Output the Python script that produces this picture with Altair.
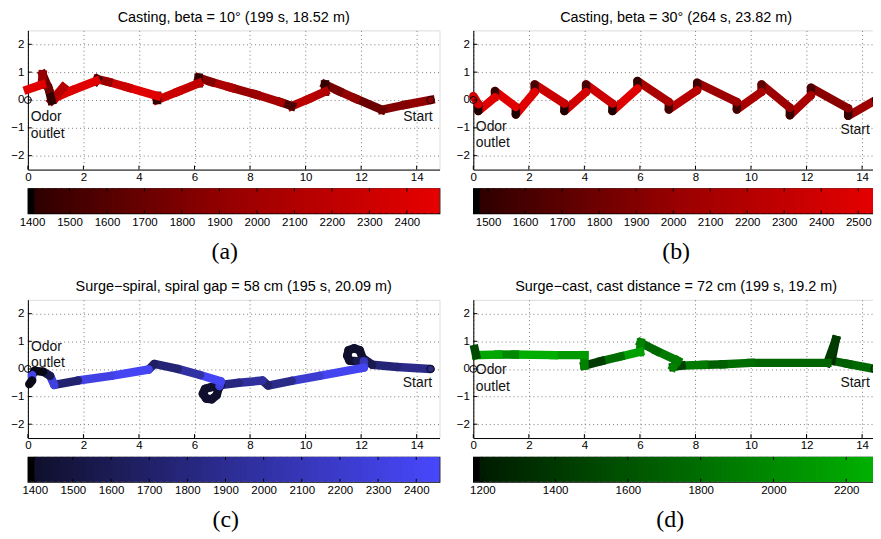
import altair as alt
import pandas as pd
import numpy as np

FONT = "Liberation Sans"
SERIF = "Liberation Serif"

XTICKS = [0, 2, 4, 6, 8, 10, 12, 14]
YTICKS = [-2, -1, 0, 1, 2]

RED = ["#000000", "#300000", "#9a0000", "#e80000"]
BLUE = ["#000000", "#10102e", "#2e2e98", "#4848ff"]
GREEN = ["#000000", "#001c00", "#006600", "#00b400"]

# ---------------- panel (a)
A_TITLE = "Casting, beta = 10\u00b0 (199 s, 18.52 m)"
A_X = [14.5, 13.6, 12.75, 11.8, 11.2, 10.7, 10.7, 10.1, 9.5, 9.1, 8.2, 7.3, 6.6, 6.15, 6.15,
       5.4, 4.65, 4.65, 3.6, 2.9, 2.5, 2.45, 1.6, 1.0, 1.27, 0.85, 0.75, 0.53, 0.5, 0.0]
A_Y = [0.0, -0.17, -0.35, 0.05, 0.32, 0.56, 0.3, 0.03, -0.22, -0.08, 0.2, 0.45, 0.65, 0.8, 0.6,
       0.3, 0.0, 0.15, 0.45, 0.65, 0.75, 0.68, 0.35, 0.08, 0.45, -0.02, 0.4, 0.92, 0.55, 0.38]
A_V = [1900, 1820, 1700, 1900, 1760, 1420, 2120, 2180, 1550, 2020, 1930, 2070, 1830, 1420,
       2230, 2280, 1450, 2430, 2280, 1930, 1500, 2440, 2410, 2330, 2120, 1420, 1720, 1920, 2440]
A_CB = [1389, 2487]
A_CBTICKS = [1400, 1500, 1600, 1700, 1800, 1900, 2000, 2100, 2200, 2300, 2400]

# ---------------- panel (b)
B_TITLE = "Casting, beta = 30\u00b0 (264 s, 23.82 m)"
B_X = [14.5, 13.5, 13.5, 12.16, 12.16, 11.4, 11.4, 10.38, 10.38, 9.49, 9.49, 8.06, 8.06,
       7.04, 7.04, 5.91, 5.91, 5.01, 5.01, 4.06, 4.06, 3.28, 3.28, 2.21, 2.21, 1.53, 1.53,
       0.78, 0.78, 0.18, 0.18, 0.0]
B_Y = [0.0, -0.57, -0.3, 0.44, 0.17, -0.55, -0.28, 0.56, 0.29, -0.34, -0.07, 0.62, 0.35,
       -0.34, -0.07, 0.68, 0.41, -0.4, -0.13, 0.56, 0.29, -0.4, -0.13, 0.56, 0.29, -0.52, -0.25,
       0.32, 0.1, -0.4, -0.15, 0.14]
B_V = [2028, 1500, 1930, 1600, 2120, 1500, 2030, 1700, 2120, 1560, 2030, 1560, 2217, 1560,
       2120, 1480, 2500, 1470, 2360, 1600, 2406, 1470, 2350, 1600, 2500, 1470, 2500, 1500,
       2500, 1470, 2400]
B_CB = [1460, 2556]
B_CBTICKS = [1500, 1600, 1700, 1800, 1900, 2000, 2100, 2200, 2300, 2400, 2500]

# ---------------- panel (c)
C_TITLE = "Surge\u2212spiral, spiral gap = 58 cm (195 s, 20.09 m)"
C_X = [14.5, 13.3, 12.4, 12.05, 11.95, 11.75, 11.55, 11.5, 11.58, 11.85, 12.1, 12.1, 10.5, 9.5,
       8.65, 8.45, 7.6, 6.95, 6.85, 6.8, 6.62, 6.42, 6.3, 6.38, 6.6, 6.9, 6.95, 6.2, 5.4, 4.55,
       4.35, 3.0, 1.8, 0.95, 0.8, 0.55, 0.25, 0.15, 0.15, 0.05]
C_Y = [0.0, 0.07, 0.15, 0.4, 0.68, 0.75, 0.68, 0.48, 0.3, 0.28, 0.28, 0.05, -0.25, -0.43,
       -0.6, -0.42, -0.5, -0.58, -0.75, -0.95, -1.1, -1.07, -0.9, -0.72, -0.66, -0.62, -0.45,
       -0.22, 0.0, 0.18, -0.02, -0.25, -0.42, -0.58, -0.25, -0.1, -0.07, -0.22, -0.42, -0.55]
C_V = [1850, 1760, 1560, 1400, 1400, 1400, 1400, 1400, 1400, 1550, 2100, 2380, 2220, 1850,
       1700, 1950, 1800, 1400, 1400, 1400, 1400, 1400, 1400, 1400, 1400, 2300, 2400, 1980,
       1750, 1650, 2400, 2320, 1720, 2300, 1550, 1390, 1390, 2350, 1390]
C_CB = [1382, 2461]
C_CBTICKS = [1400, 1500, 1600, 1700, 1800, 1900, 2000, 2100, 2200, 2300, 2400]

# ---------------- panel (d)
D_TITLE = "Surge\u2212cast, cast distance = 72 cm (199 s, 19.2 m)"
D_X = [14.45, 13.5, 12.9, 13.05, 12.75, 10.0, 9.0, 8.3, 7.5, 7.2, 7.35, 6.6, 6.03, 6.0, 5.3,
       4.6, 4.0, 4.0, 2.9, 1.5, 0.9, 0.1, 0.05]
D_Y = [0.0, 0.18, 0.3, 1.05, 0.22, 0.22, 0.17, 0.15, 0.12, 0.07, 0.3, 0.65, 0.95, 0.62, 0.45,
       0.28, 0.12, 0.5, 0.5, 0.52, 0.52, 0.5, 0.72]
D_V = [1750, 1680, 1330, 1420, 1720, 1780, 1680, 1880, 1480, 1930, 1880, 1750, 1930, 2150,
       1780, 1420, 1930, 2100, 2250, 1980, 2200, 1520]
D_CB = [1175, 2290]
D_CBTICKS = [1200, 1400, 1600, 1800, 2000, 2200]

TICK_FS = 11.6


def quadrant(title, X, Y, V, cb, cbticks, cmap, width, height, start, start_fill,
             labels, caption, cap_dx, cap="round"):
    lo, hi = cb
    xmax = width / 27.93
    xs = alt.Scale(domain=[0, xmax], nice=False, zero=False)
    ys = alt.Scale(domain=[-2.5, 2.5], nice=False, zero=False)
    binw = (hi - lo) / 64
    cs = alt.Scale(domain=[lo, lo + binw, (lo + hi) / 2, hi], range=cmap, interpolate="rgb")

    xaxis = alt.Axis(values=XTICKS, grid=True, gridDash=[1, 3], gridColor="#7a7a7a",
                     tickSize=0, labelPadding=2, labelFontSize=TICK_FS, labelFont=FONT,
                     labelColor="black", domainColor="black", title=None,
                     labelFlush=False, labelOverlap=False, format="d")
    yaxis = alt.Axis(values=YTICKS, grid=True, gridDash=[1, 3], gridColor="#7a7a7a",
                     tickSize=0, labelPadding=4, labelFontSize=TICK_FS, labelFont=FONT,
                     labelColor="black", domainColor="black", title=None,
                     labelFlush=False, labelOverlap=False, format="d")

    def X_(f):
        return alt.X(f, scale=xs, axis=xaxis)

    def Y_(f):
        return alt.Y(f, scale=ys, axis=yaxis)

    seg = pd.DataFrame({"x": X[:-1], "y": Y[:-1], "x2": X[1:], "y2": Y[1:], "v": V})
    segs = alt.Chart(seg).mark_rule(strokeWidth=8.5, strokeCap=cap).encode(
        x=X_("x:Q"), y=Y_("y:Q"), x2="x2:Q", y2="y2:Q",
        color=alt.Color("v:Q", scale=cs, legend=None),
    )
    xt = alt.Chart(pd.DataFrame({"x": XTICKS})).mark_rule(color="black", strokeWidth=1).encode(
        x=X_("x:Q"), y=alt.value(height), y2=alt.value(height - 4))
    yt = alt.Chart(pd.DataFrame({"y": YTICKS})).mark_rule(color="black", strokeWidth=1).encode(
        y=Y_("y:Q"), x=alt.value(0), x2=alt.value(4))
    outlet = alt.Chart(pd.DataFrame({"x": [0.0], "y": [0.0]})).mark_point(
        shape="circle", filled=False, size=48, color="black", strokeWidth=1, opacity=1).encode(
        x=X_("x:Q"), y=Y_("y:Q"))
    startm = alt.Chart(pd.DataFrame({"x": [start[0]], "y": [start[1]]})).mark_point(
        shape="circle", filled=True, size=55, fill=start_fill, stroke="black",
        strokeWidth=0.8, opacity=1, clip=True).encode(x=X_("x:Q"), y=Y_("y:Q"))
    lab = pd.DataFrame({"t": [l[0] for l in labels], "x": [l[1] for l in labels],
                        "y": [l[2] for l in labels]})
    txt = alt.Chart(lab).mark_text(align="left", baseline="middle", font=FONT, fontSize=14,
                                   color="#111111", clip=True).encode(
        x=X_("x:Q"), y=Y_("y:Q"), text="t:N")

    traj = alt.layer(segs, xt, yt, outlet, startm, txt).properties(
        width=width, height=height,
        title=alt.TitleParams(title, fontSize=14.5, font=FONT, fontWeight="normal", offset=5,
                              anchor="middle", frame="group", color="black"))

    edges = np.linspace(lo, hi, 65)
    cbdf = pd.DataFrame({"a": edges[:-1], "b": np.minimum(edges[1:] + binw * 0.5, hi),
                         "v": edges[:-1]})
    cxs = alt.Scale(domain=[lo, hi], nice=False, zero=False)
    cax = alt.Axis(values=cbticks, domain=False, ticks=False, grid=False, labelPadding=3,
                   labelFontSize=TICK_FS, labelFont=FONT, labelColor="black", title=None,
                   labelFlush=False, labelOverlap=False, format="d")
    rect = alt.Chart(cbdf).mark_rect().encode(
        x=alt.X("a:Q", scale=cxs, axis=cax), x2="b:Q",
        color=alt.Color("v:Q", scale=cs, legend=None),
    )
    tdf = pd.DataFrame({"a": cbticks})
    ttop = alt.Chart(tdf).mark_rule(color="black", strokeWidth=1).encode(
        x=alt.X("a:Q", scale=cxs, axis=cax), y=alt.value(0), y2=alt.value(3))
    tbot = alt.Chart(tdf).mark_rule(color="black", strokeWidth=1).encode(
        x=alt.X("a:Q", scale=cxs, axis=cax), y=alt.value(25), y2=alt.value(22))
    cbar = alt.layer(rect, ttop, tbot).properties(
        width=width, height=25,
        view=alt.ViewBackground(stroke="black", strokeWidth=1.2),
        title=alt.TitleParams(caption, orient="bottom", font=SERIF, fontSize=24,
                              fontWeight="normal", offset=12, dx=cap_dx, anchor="middle",
                              frame="group", color="black"))
    return alt.vconcat(traj, cbar, spacing=2)


qa = quadrant(A_TITLE, A_X, A_Y, A_V, A_CB, A_CBTICKS, RED, 414, 140, (14.5, 0.0), "#8a0000",
              [("Odor", 0.1, -0.6), ("outlet", 0.1, -1.21), ("Start", 13.52, -0.6)], "(a)", -9,
              cap="square")
qb = quadrant(B_TITLE, B_X, B_Y, B_V, B_CB, B_CBTICKS, RED, 408, 140, (14.5, 0.0), "#5a0000",
              [("Odor", 0.09, -0.96), ("outlet", 0.09, -1.54), ("Start", 13.22, -1.09)], "(b)", 0)
qc = quadrant(C_TITLE, C_X, C_Y, C_V, C_CB, C_CBTICKS, BLUE, 414, 139, (14.5, 0.0), "#2a2a80",
              [("Odor", 0.11, 0.78), ("outlet", 0.11, 0.2), ("Start", 13.5, -0.52)], "(c)", -8)
qd = quadrant(D_TITLE, D_X, D_Y, D_V, D_CB, D_CBTICKS, GREEN, 408, 139, (14.45, 0.0), "#006a00",
              [("Odor", 0.09, -0.05), ("outlet", 0.09, -0.65), ("Start", 13.22, -0.52)], "(d)", -6,
              cap="square")

row1 = alt.hconcat(qa, qb, spacing=15).resolve_scale(color="independent")
row2 = alt.hconcat(qc, qd, spacing=15).resolve_scale(color="independent")

chart = alt.vconcat(row1, row2, spacing=14).resolve_scale(
    color="independent"
).properties(
    padding={"left": 2, "top": 0, "right": -9, "bottom": 0}
).configure_view(strokeWidth=0).configure(background="white")

chart.save("out.html", embed_options={"renderer": "svg", "actions": False})
